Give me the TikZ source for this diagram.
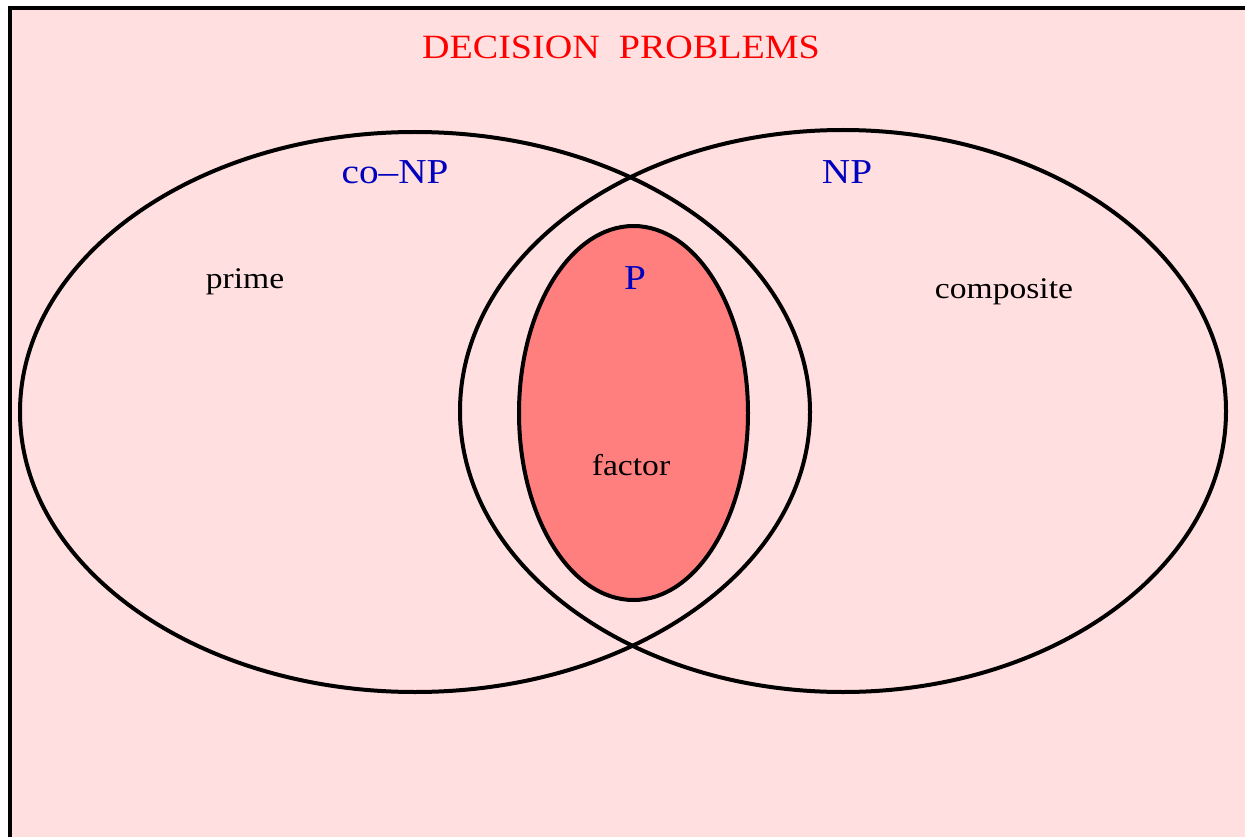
\documentclass[tikz,border=0pt]{standalone}
\usepackage{fontspec}
\setmainfont{Liberation Serif}[FakeStretch=1.12]
\definecolor{bgpink}{RGB}{255,223,223}
\definecolor{pfill}{RGB}{255,127,127}
\definecolor{lblue}{RGB}{0,0,190}
\begin{document}
\begin{tikzpicture}[x=1pt,y=-1pt,
  setline/.style={draw=black,line width=4pt},
  bigtitle/.style={text=red,font=\fontsize{34}{36}\selectfont,anchor=base,inner sep=0pt},
  setname/.style={text=lblue,font=\fontsize{35}{37}\selectfont,anchor=base,inner sep=0pt},
  problem/.style={text=black,font=\fontsize{30}{32}\selectfont,anchor=base,inner sep=0pt}]
\useasboundingbox (0,0) rectangle (1245,837);
\clip (0,0) rectangle (1245,837);
\fill[white] (0,0) rectangle (1245,837);
\draw[fill=bgpink,line width=4pt] (10.3,8.5) rectangle (1270,860);
\draw[setline] (415,412) ellipse [x radius=395, y radius=280];
\draw[setline] (843,411) ellipse [x radius=383, y radius=281];
\draw[setline,fill=pfill] (633.5,413) ellipse [x radius=114.5, y radius=187];
\node[bigtitle] (title) at (621,59) {DECISION\ \ PROBLEMS};
\node[setname] (conp) at (395,184) {co--NP};
\node[setname] (np) at (847,184) {NP};
\node[setname] (p) at (635,289) {P};
\node[problem] (prime) at (245,288) {prime};
\node[problem] (composite) at (1004,298) {composite};
\node[problem] (factor) at (631,475) {factor};
\end{tikzpicture}
\end{document}
